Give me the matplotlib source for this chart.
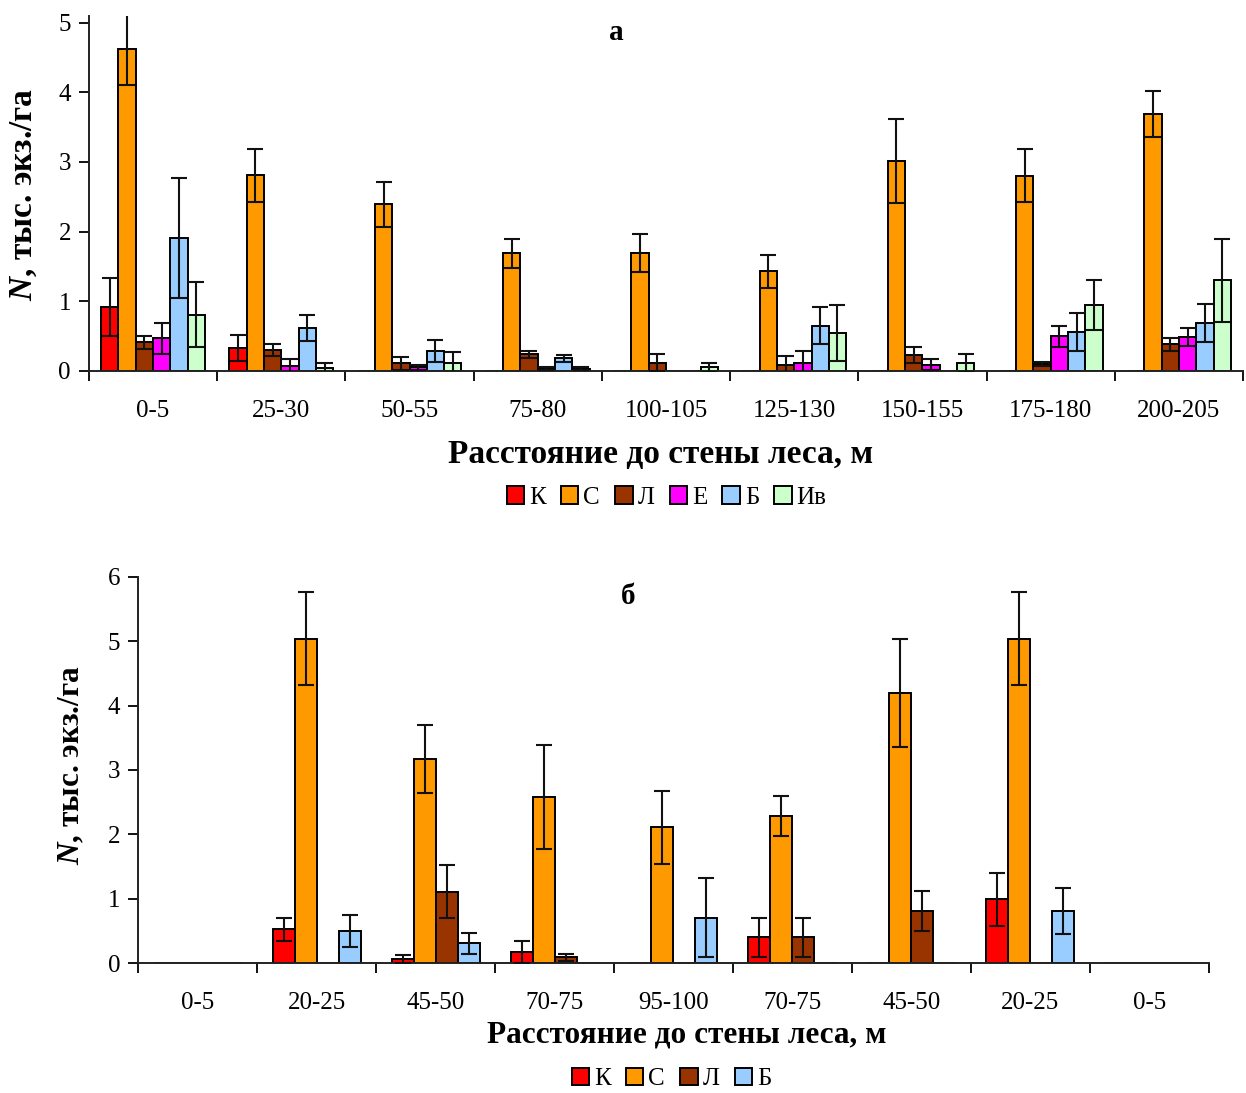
import matplotlib
matplotlib.use("Agg")
import matplotlib.pyplot as plt
import numpy as np
from matplotlib.patches import Patch

plt.rcParams['font.family'] = ['Liberation Serif', 'DejaVu Serif']
plt.rcParams['mathtext.fontset'] = 'custom'
plt.rcParams['mathtext.it'] = 'Liberation Serif:italic:bold'
plt.rcParams['mathtext.rm'] = 'Liberation Serif:bold'

# ---------- Data: panel a ----------
cats_a = ["0-5", "25-30", "50-55", "75-80", "100-105", "125-130", "150-155", "175-180", "200-205"]
species_a = ["К", "С", "Л", "Е", "Б", "Ив"]
K_a = [0.92, 0.33, 0, 0, 0, 0, 0, 0, 0]
K_a_err = [0.42, 0.18, 0, 0, 0, 0, 0, 0, 0]
C_a = [4.62, 2.81, 2.39, 1.69, 1.69, 1.43, 3.01, 2.80, 3.69]
C_a_err = [0.51, 0.38, 0.32, 0.21, 0.27, 0.24, 0.60, 0.38, 0.33]
L_a = [0.41, 0.30, 0.11, 0.24, 0.12, 0.09, 0.23, 0.10, 0.38]
L_a_err = [0.09, 0.08, 0.09, 0.05, 0.12, 0.12, 0.12, 0.03, 0.09]
E_a = [0.47, 0.07, 0.05, 0.03, 0, 0.11, 0.09, 0.50, 0.49]
E_a_err = [0.22, 0.10, 0.04, 0.02, 0, 0.17, 0.08, 0.15, 0.13]
B_a = [1.91, 0.62, 0.29, 0.18, 0, 0.65, 0, 0.56, 0.69]
B_a_err = [0.86, 0.19, 0.16, 0.05, 0, 0.27, 0, 0.27, 0.27]
Iv_a = [0.81, 0.04, 0.12, 0.03, 0.05, 0.54, 0.11, 0.95, 1.30]
Iv_a_err = [0.47, 0.08, 0.15, 0.02, 0.07, 0.40, 0.13, 0.36, 0.60]

# ---------- Data: panel б ----------
cats_b = ["0-5", "20-25", "45-50", "70-75", "95-100", "70-75", "45-50", "20-25", "0-5"]
species_b = ["К", "С", "Л", "Б"]
K_b = [0, 0.53, 0.07, 0.18, 0, 0.40, 0, 0.99, 0]
K_b_err = [0, 0.18, 0.06, 0.17, 0, 0.31, 0, 0.41, 0]
C_b = [0, 5.04, 3.17, 2.58, 2.11, 2.29, 4.20, 5.04, 0]
C_b_err = [0, 0.72, 0.53, 0.81, 0.57, 0.31, 0.84, 0.72, 0]
L_b = [0, 0, 1.11, 0.09, 0, 0.40, 0.81, 0, 0]
L_b_err = [0, 0, 0.41, 0.06, 0, 0.31, 0.31, 0, 0]
B_b = [0, 0.50, 0.31, 0, 0.71, 0, 0, 0.81, 0]
B_b_err = [0, 0.25, 0.16, 0, 0.62, 0, 0, 0.36, 0]

colors_a = ["#FF0000", "#FF9900", "#993300", "#FF00FF", "#99CCFF", "#CCFFCC"]
colors_b = ["#FF0000", "#FF9900", "#993300", "#99CCFF"]

series_a = [(K_a, K_a_err), (C_a, C_a_err), (L_a, L_a_err), (E_a, E_a_err), (B_a, B_a_err), (Iv_a, Iv_a_err)]
series_b = [(K_b, K_b_err), (C_b, C_b_err), (L_b, L_b_err), (B_b, B_b_err)]

fig = plt.figure(figsize=(12.46, 10.93), dpi=100)
ax1 = fig.add_axes([0.0714, 0.6606, 0.9262, 0.3251])
ax2 = fig.add_axes([0.111, 0.1187, 0.859, 0.3537])

tick_fs = 18


def draw(ax, cats, series, colors, width, ymax):
    n = len(series)
    x = np.arange(len(cats)) + 0.5
    for j, ((vals, errs), col) in enumerate(zip(series, colors)):
        pos = x + (j - (n - 1) / 2) * width
        ax.bar(pos, vals, width=width, color=col, edgecolor="black", linewidth=1.4, zorder=2)
        vals = np.array(vals, float)
        errs = np.array(errs, float)
        m = (vals > 0) & (errs > 0)
        ax.errorbar(pos[m], vals[m], yerr=errs[m], fmt="none", ecolor="#111111",
                    elinewidth=1.5, capsize=6, capthick=1.5, zorder=3)
    ax.set_xlim(0, len(cats))
    ax.set_ylim(0, ymax)
    ax.set_xticks(x)
    ax.set_xticklabels(cats, fontsize=tick_fs)
    ax.set_xticks(np.arange(len(cats) + 1), minor=True)
    ax.tick_params(axis="x", which="major", length=0, pad=21)
    ax.tick_params(axis="x", which="minor", length=7, width=1.3, direction="out")
    ax.tick_params(axis="y", length=7, width=1.3, direction="out", labelsize=tick_fs, pad=6)
    for s in ["top", "right"]:
        ax.spines[s].set_visible(False)
    for s in ["left", "bottom"]:
        ax.spines[s].set_linewidth(1.4)
        ax.spines[s].set_color("#222222")


draw(ax1, cats_a, series_a, colors_a, 0.135, 5.1)
ax1.set_yticks([0, 1, 2, 3, 4, 5])
draw(ax2, cats_b, series_b, colors_b, 0.185, 6)
ax2.set_yticks([0, 1, 2, 3, 4, 5, 6])

ylab = "$\\mathit{N}$, тыс. экз./га"
fig.text(0.019, 0.822, ylab, rotation=90, ha="center", va="center",
         fontsize=24, fontweight="bold")
fig.text(0.058, 0.300, ylab, rotation=90, ha="center", va="center",
         fontsize=22.5, fontweight="bold")

fig.text(0.495, 0.970, "а", ha="center", va="center", fontsize=21, fontweight="bold")
fig.text(0.504, 0.454, "б", ha="center", va="center", fontsize=21, fontweight="bold")

fig.text(0.530, 0.584, "Расстояние до стены леса, м", ha="center", va="center",
         fontsize=24, fontweight="bold")
fig.text(0.551, 0.053, "Расстояние до стены леса, м", ha="center", va="center",
         fontsize=22.5, fontweight="bold")

h_a = [Patch(facecolor=c, edgecolor="black", linewidth=1.4) for c in colors_a]
fig.legend(h_a, species_a, loc="center", bbox_to_anchor=(0.535, 0.545), ncol=6,
           frameon=False, fontsize=18, handlelength=0.7, handleheight=0.7,
           handletextpad=0.2, columnspacing=0.6)
h_b = [Patch(facecolor=c, edgecolor="black", linewidth=1.4) for c in colors_b]
fig.legend(h_b, species_b, loc="center", bbox_to_anchor=(0.539, 0.013), ncol=4,
           frameon=False, fontsize=18, handlelength=0.7, handleheight=0.7,
           handletextpad=0.2, columnspacing=0.6)

fig.savefig("out.png", dpi=100)
